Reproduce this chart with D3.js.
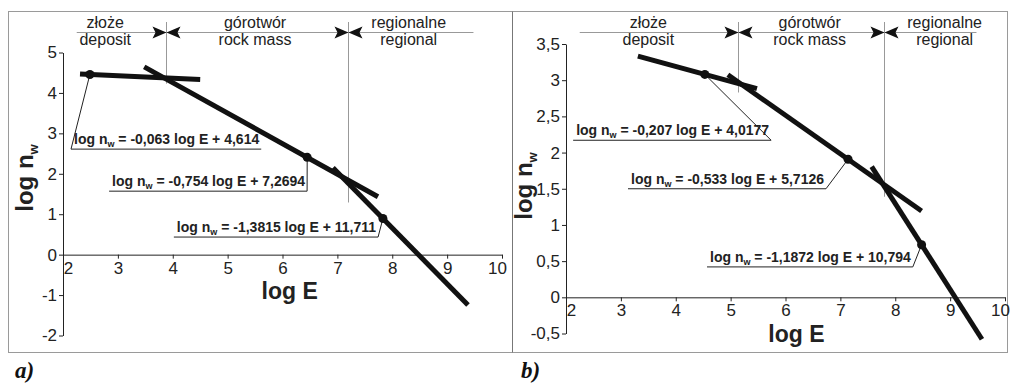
<!DOCTYPE html>
<html>
<head>
<meta charset="utf-8">
<script src="https://cdn.jsdelivr.net/npm/d3@7"></script>
<style>
  body { margin: 0; background: #fff; }
  svg { display: block; font-family: "Liberation Sans", Arial, sans-serif; }
</style>
</head>
<body>
<svg id="chart" width="1013" height="383"></svg>
<script>
// zone names (Polish / English)
const zonesPl = ['złoże', 'górotwór', 'regionalne'];
const zonesEn = ['deposit', 'rock mass', 'regional'];

// x ticks (log E), same for both panels
const xTicks = [2, 3, 4, 5, 6, 7, 8, 9, 10];

// panel a)
const yTicksA = [-2, -1, 0, 1, 2, 3, 4, 5];
const slopesA = [-0.063, -0.754, -1.3815];
const interceptsA = [4.614, 7.2694, 11.711];
const fitStartA = [2.31, 3.48, 6.92];
const fitEndA = [4.5, 7.74, 9.38];
const pointsA = [2.49, 6.45, 7.83];
const boundsA = [3.88, 7.19];
const boundsLowA = [4.23, 1.29];

// panel b)
const yTicksB = [-0.5, 0, 0.5, 1, 1.5, 2, 2.5, 3, 3.5];
const slopesB = [-0.207, -0.533, -1.1872];
const interceptsB = [4.0177, 5.7126, 10.794];
const fitStartB = [3.31, 4.95, 7.57];
const fitEndB = [5.48, 8.48, 9.58];
const pointsB = [4.53, 7.14, 8.48];
const boundsB = [5.13, 7.79];
const boundsLowB = [2.83, 1.39];

const comma = v => String(v).replace('.', ',');

const svg = d3.select('#chart');

// frame
svg.append('rect').attr('x', 8.5).attr('y', 11.5).attr('width', 999).attr('height', 341)
    .attr('fill', 'none').attr('stroke', '#9a9a9a');
svg.append('line').attr('x1', 512.5).attr('x2', 512.5).attr('y1', 11.5).attr('y2', 352.5)
    .attr('stroke', '#777');

function drawPanel(p) {
    const g = svg.append('g');
    const x = d3.scaleLinear().domain([2, 10]).range(p.xRange);
    const y = d3.scaleLinear().domain(p.yDomain).range(p.yRange);

    // header
    g.append('line')
        .attr('x1', x(2.25)).attr('x2', x(9.48))
        .attr('y1', 32.5).attr('y2', 32.5)
        .attr('stroke', '#999');

    p.bounds.forEach((b, i) => {
        const bx = Math.round(x(b)) + 0.5;
        g.append('line')
            .attr('x1', bx).attr('x2', bx)
            .attr('y1', 22).attr('y2', y(p.boundsLow[i]))
            .attr('stroke', '#999');
        g.append('path')
            .attr('d', `M${bx},32.5 L${bx - 14},26.5 L${bx - 11},32.5 L${bx - 14},38.5 Z`)
            .attr('fill', '#111');
        g.append('path')
            .attr('d', `M${bx},32.5 L${bx + 14},26.5 L${bx + 11},32.5 L${bx + 14},38.5 Z`)
            .attr('fill', '#111');
    });

    zonesPl.forEach((z, i) => {
        g.append('text').attr('x', x(p.zoneCenters[i])).attr('y', 28)
            .attr('text-anchor', 'middle').attr('font-size', 16).attr('fill', '#222')
            .text(z);
        g.append('text').attr('x', x(p.zoneCenters[i])).attr('y', 45)
            .attr('text-anchor', 'middle').attr('font-size', 16).attr('fill', '#222')
            .text(zonesEn[i]);
    });

    // axes
    const xAxis = d3.axisBottom(x).tickValues(xTicks).tickSize(4).tickSizeOuter(0).tickPadding(3)
        .tickFormat(d => d);
    const gx = g.append('g').attr('transform', `translate(0,${y(0)})`).call(xAxis);
    gx.selectAll('text').attr('font-size', 17).attr('fill', '#222')
        .attr('font-family', '"Liberation Sans", Arial, sans-serif')
        .attr('dx', d => d === 2 ? 5 : d === 10 ? -5 : 0);

    const yAxis = d3.axisLeft(y).tickValues(p.yTicks).tickSize(4).tickSizeOuter(0).tickPadding(2)
        .tickFormat(comma);
    const gy = g.append('g').attr('transform', `translate(${x(2)},0)`).call(yAxis);
    gy.selectAll('text').attr('font-size', 17).attr('fill', '#222')
        .attr('font-family', '"Liberation Sans", Arial, sans-serif');
    g.selectAll('.domain, .tick line').attr('stroke', '#222');

    // axis titles
    g.append('text').attr('x', x(p.xTitleAt)).attr('y', p.xTitleY)
        .attr('text-anchor', 'middle').attr('font-size', 23).attr('font-weight', 'bold')
        .attr('fill', '#222').text('log E');

    const yt = g.append('text')
        .attr('transform', `translate(${p.yTitle[0]},${p.yTitle[1]}) rotate(-90)`)
        .attr('text-anchor', 'middle').attr('font-size', 24).attr('font-weight', 'bold')
        .attr('fill', '#222');
    yt.append('tspan').text('log n');
    yt.append('tspan').attr('font-size', 13).attr('dy', 5).text('w');

    // fitted lines
    p.slopes.forEach((s, i) => {
        const f = e => s * e + p.intercepts[i];
        g.append('line')
            .attr('x1', x(p.fitStart[i])).attr('y1', y(f(p.fitStart[i])))
            .attr('x2', x(p.fitEnd[i])).attr('y2', y(f(p.fitEnd[i])))
            .attr('stroke', '#111').attr('stroke-width', 5);
    });

    // equation labels + leaders
    p.slopes.forEach((s, i) => {
        const f = e => s * e + p.intercepts[i];
        const ux0 = x(p.labelE0[i]), uy = y(p.labelN[i]);
        const t = g.append('text').attr('x', ux0 + 3).attr('y', uy - 5)
            .attr('font-size', 14).attr('font-weight', 'bold').attr('fill', '#222');
        t.append('tspan').text('log n');
        t.append('tspan').attr('font-size', 9).attr('dy', 3).text('w');
        t.append('tspan').attr('dy', -3)
            .text(` = ${comma(s)} log E + ${comma(p.intercepts[i])}`);
        const textEnd = ux0 + 3 + t.node().getComputedTextLength();
        const ux1 = Math.max(x(p.labelE1[i]), textEnd + 2);

        g.append('line').attr('x1', ux0).attr('x2', ux1).attr('y1', uy).attr('y2', uy)
            .attr('stroke', '#222').attr('stroke-width', 1);
        const lx = p.leaderSide[i] === 'left' ? ux0 : ux1;
        g.append('line').attr('x1', lx).attr('y1', uy)
            .attr('x2', x(p.points[i])).attr('y2', y(f(p.points[i])))
            .attr('stroke', '#222').attr('stroke-width', 1);
    });

    // marked points
    g.selectAll('circle.pt').data(p.points).enter().append('circle')
        .attr('class', 'pt')
        .attr('cx', d => x(d))
        .attr('cy', (d, i) => y(p.slopes[i] * d + p.intercepts[i]))
        .attr('r', 4.5).attr('fill', '#111');

    // panel letter
    g.append('text').attr('x', p.letterX).attr('y', 378)
        .attr('font-family', '"Liberation Serif", "Times New Roman", serif')
        .attr('font-size', 23).attr('font-weight', 'bold').attr('font-style', 'italic')
        .attr('fill', '#111').text(p.letter);
}

drawPanel({
    xRange: [63, 502], yDomain: [-2, 5], yRange: [335.5, 52.5], yTicks: yTicksA,
    slopes: slopesA, intercepts: interceptsA, fitStart: fitStartA, fitEnd: fitEndA,
    points: pointsA, bounds: boundsA, boundsLow: boundsLowA,
    zoneCenters: [2.77, 5.5, 8.3],
    labelE0: [2.146, 2.84, 4.02], labelE1: [5.46, 6.19, 7.5], labelN: [2.61, 1.57, 0.435],
    leaderSide: ['left', 'right', 'right'],
    xTitleAt: 6.13, xTitleY: 299, yTitle: [33, 178],
    letter: 'a)', letterX: 15
});

drawPanel({
    xRange: [566, 1005], yDomain: [-0.5, 3.5], yRange: [333.5, 44], yTicks: yTicksB,
    slopes: slopesB, intercepts: interceptsB, fitStart: fitStartB, fitEnd: fitEndB,
    points: pointsB, bounds: boundsB, boundsLow: boundsLowB,
    zoneCenters: [3.5, 6.44, 8.9],
    labelE0: [2.13, 3.13, 4.57], labelE1: [5.68, 6.48, 8.12], labelN: [2.17, 1.5, 0.42],
    leaderSide: ['right', 'right', 'right'],
    xTitleAt: 6.2, xTitleY: 342, yTitle: [532, 186],
    letter: 'b)', letterX: 521
});
</script>
</body>
</html>
